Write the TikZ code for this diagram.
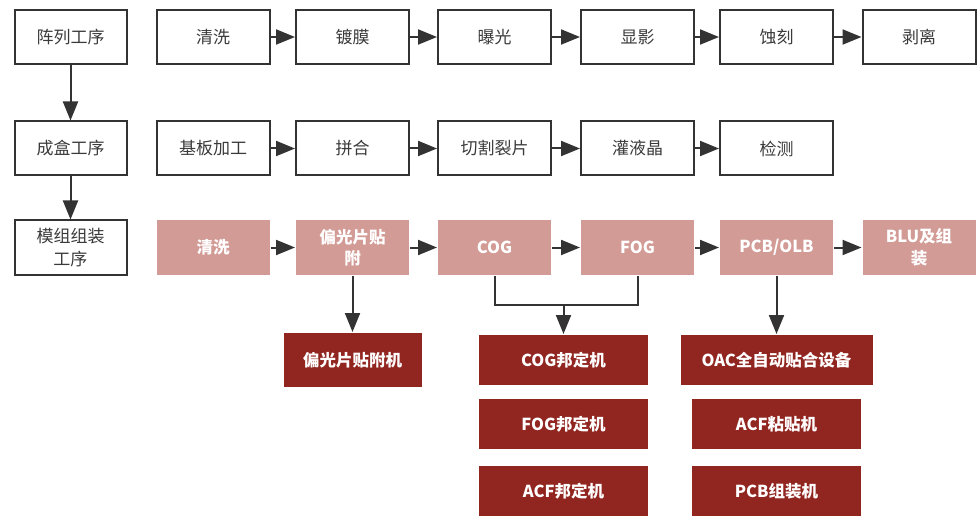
\documentclass[tikz,border=0pt]{standalone}
\usepackage{fontspec}
\setmainfont{Noto Sans CJK SC}
\usepackage{xcolor}
\usetikzlibrary{arrows.meta}
\usetikzlibrary{positioning}

\definecolor{lineGray}{HTML}{333333}
\definecolor{textGray}{HTML}{3A3A3A}
\definecolor{stepPink}{HTML}{D29B96}
\definecolor{machRed}{HTML}{91251F}

\tikzset{
  stage/.style={draw=lineGray, line width=2pt, text=textGray, minimum width=112pt, minimum height=54pt, align=center, font=\fontsize{17}{23}\selectfont},
  substep/.style={fill=stepPink, text=white, minimum width=113pt, minimum height=55pt, align=center, font=\fontsize{16.5}{21.5}\selectfont\bfseries},
  machine/.style={fill=machRed, text=white, minimum height=50pt, align=center, font=\fontsize{16.5}{20}\selectfont\bfseries},
}

\begin{document}
\begin{tikzpicture}[x=1pt, y=-1pt, >={Triangle[length=19pt,width=15pt]}, line width=2pt]
      \useasboundingbox (0,0) rectangle (978,516);

      % process stages
      \node[stage] (P1) at (70.5,37) {阵列工序};
      \node[stage] (P2) at (70.5,148.5) {成盒工序};
      \node[stage] (P3) at (70.5,247.5) {模组组装\\工序};

      % array steps
      \node[stage, minimum width=113pt] (A1) at (213,37) {清洗};
      \node[stage, minimum width=113pt] (A2) at (352.5,37) {镀膜};
      \node[stage, minimum width=113pt] (A3) at (494.5,37) {曝光};
      \node[stage, minimum width=113pt] (A4) at (637.5,37) {显影};
      \node[stage, minimum width=113pt] (A5) at (776.5,37) {蚀刻};
      \node[stage, minimum width=113pt] (A6) at (919,37) {剥离};

      % cell steps
      \node[stage, minimum width=113pt] (B1) at (213,148.5) {基板加工};
      \node[stage, minimum width=113pt] (B2) at (352.5,148.5) {拼合};
      \node[stage, minimum width=113pt] (B3) at (494.5,148.5) {切割裂片};
      \node[stage, minimum width=113pt] (B4) at (637.5,148.5) {灌液晶};
      \node[stage, minimum width=113pt] (B5) at (776.5,148.5) {检测};

      % module steps
      \node[substep] (C1) at (213,247.5) {清洗};
      \node[substep] (C2) at (352.5,247.5) {偏光片贴\\附};
      \node[substep] (C3) at (494.5,247.5) {COG};
      \node[substep] (C4) at (637.5,247.5) {FOG};
      \node[substep] (C5) at (776.5,247.5) {PCB/OLB};
      \node[substep] (C6) at (919,247.5) {BLU及组\\装};

      % machines
      \node[machine, minimum width=138pt, minimum height=54pt] (D1) at (352.5,360) {偏光片贴附机};
      \node[machine, minimum width=169pt] (E1) at (563.5,360) {COG邦定机};
      \node[machine, minimum width=169pt] (E2) at (563.5,424) {FOG邦定机};
      \node[machine, minimum width=169pt] (E3) at (563.5,491) {ACF邦定机};
      \node[machine, minimum width=192pt] (F1) at (776.5,360) {OAC全自动贴合设备};
      \node[machine, minimum width=169pt] (F2) at (776.5,424) {ACF粘贴机};
      \node[machine, minimum width=169pt] (F3) at (776.5,491) {PCB组装机};

      \coordinate (J1) at (563.5,305);

      \draw[->, lineGray] (P1) -- (P2);
      \draw[->, lineGray] (P2) -- (P3);

      \draw[->, lineGray] (A1) -- (A2);
      \draw[->, lineGray] (A2) -- (A3);
      \draw[->, lineGray] (A3) -- (A4);
      \draw[->, lineGray] (A4) -- (A5);
      \draw[->, lineGray] (A5) -- (A6);

      \draw[->, lineGray] (B1) -- (B2);
      \draw[->, lineGray] (B2) -- (B3);
      \draw[->, lineGray] (B3) -- (B4);
      \draw[->, lineGray] (B4) -- (B5);

      \draw[->, lineGray] (C1) -- (C2);
      \draw[->, lineGray] (C2) -- (C3);
      \draw[->, lineGray] (C3) -- (C4);
      \draw[->, lineGray] (C4) -- (C5);
      \draw[->, lineGray] (C5) -- (C6);

      \draw[->, lineGray] (C2) -- (D1);
      \draw[lineGray] (C3.south) |- (J1) -| (C4.south);
      \draw[->, lineGray] (J1) -- (E1);
      \draw[->, lineGray] (C5) -- (F1);
    \end{tikzpicture}
\end{document}
